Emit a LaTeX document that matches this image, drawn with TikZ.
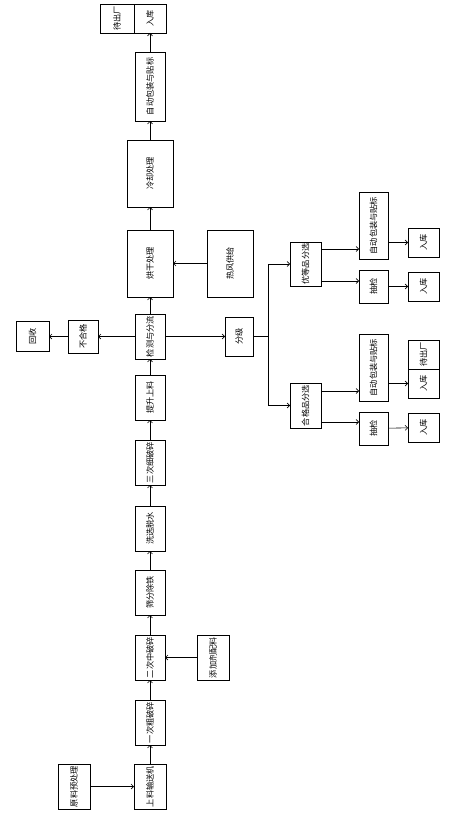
\documentclass[tikz,border=0pt]{standalone}
\usepackage{fontspec}
\usepackage{graphicx}
\usepackage{tikz}
\usetikzlibrary{arrows.meta,positioning,calc}
\newfontfamily\cjk{Noto Sans CJK SC}
\newcommand{\vtext}[1]{\rotatebox{90}{\cjk\fontsize{8.2}{9}\selectfont #1}}

\begin{document}
\begin{tikzpicture}[
    x=1pt, y=1pt,
    node distance=19pt,
    box/.style={draw, line width=0.7pt, inner sep=0pt, outer sep=0pt, minimum width=30pt, minimum height=45pt},
    bigbox/.style={box, minimum width=46pt, minimum height=67pt},
    longbox/.style={box, minimum width=29pt, minimum height=67pt},
    smallbox/.style={box, minimum width=31pt, minimum height=29pt},
    arrow/.style={-{Straight Barb[length=2.5pt,width=5pt]}, line width=0.6pt}
]
\useasboundingbox (0,0) rectangle (467,-818);
% main line
\node[box, minimum width=32pt] (feed) at (150,-786.5) {\vtext{上料输送机}};
\node[box, above=of feed] (s1) {\vtext{一次粗破碎}};
\node[box, above=20pt of s1] (s2) {\vtext{二次中破碎}};
\node[box, above=20pt of s2] (s3) {\vtext{筛分除铁}};
\node[box, above=of s3] (s4) {\vtext{洗选脱水}};
\node[box, above=21pt of s4] (s5) {\vtext{三次细破碎}};
\node[box, above=20pt of s5] (s6) {\vtext{提升上料}};
\node[box, above=16pt of s6] (judge) {\vtext{检测与分流}};
\node[bigbox, above=17pt of judge] (dry) {\vtext{烘干处理}};
\node[bigbox, above=23pt of dry] (cool) {\vtext{冷却处理}};
\node[longbox, minimum width=30pt, minimum height=69pt, above=of cool] (pack) {\vtext{自动包装与贴标}};
\node[smallbox, minimum width=32pt, above=of pack] (outB) {\vtext{入库}};
\node[smallbox, minimum width=34pt, left=0pt of outB] (outA) {\vtext{待出厂}};
% side inputs
\node[box, minimum width=32pt, left=44pt of feed] (raw) {\vtext{原料预处理}};
\node[box, minimum width=32pt, right=32pt of s2] (add) {\vtext{添加剂配料}};
\node[bigbox, right=34pt of dry] (heat) {\vtext{热风供给}};
\node[box, minimum height=33pt, left=37pt of judge] (reject) {\vtext{不合格}};
\node[box, minimum width=33pt, minimum height=30pt, left=19pt of reject] (recycle) {\vtext{回收}};
\node[box, minimum width=28pt, minimum height=39pt, right=60pt of judge] (grade) {\vtext{分级}};
% branches
\node[box, minimum width=31pt, minimum height=44pt] (brA) at (305.5,-264) {\vtext{优等品分选}};
\node[box, minimum width=31pt] (brB) at (305.5,-405.5) {\vtext{合格品分选}};
\node[longbox] (packA) at (373.5,-225.5) {\vtext{自动包装与贴标}};
\node[box, minimum width=29pt, minimum height=33pt] (checkA) at (373.5,-286.5) {\vtext{抽检}};
\node[smallbox] (inA) at (423.5,-242.5) {\vtext{入库}};
\node[smallbox] (inA2) at (423.5,-286.5) {\vtext{入库}};
\node[longbox] (packB) at (373.5,-367.5) {\vtext{自动包装与贴标}};
\node[box, minimum width=29pt, minimum height=33pt] (checkB) at (373.5,-428.5) {\vtext{抽检}};
\node[smallbox] (outC) at (423.5,-383.5) {\vtext{入库}};
\node[smallbox, above=0pt of outC] (outD) {\vtext{待出厂}};
\node[smallbox] (inB2) at (423.5,-427.5) {\vtext{入库}};

\draw[arrow] (raw) -- (feed);
\draw[arrow] (feed) -- (s1);
\draw[arrow] (s1) -- (s2);
\draw[arrow] (add) -- (s2);
\draw[arrow] (s2) -- (s3);
\draw[arrow] (s3) -- (s4);
\draw[arrow] (s4) -- (s5);
\draw[arrow] (s5) -- (s6);
\draw[arrow] (s6) -- (judge);
\draw[arrow] (judge) -- (dry);
\draw[arrow] (heat) -- (dry);
\draw[arrow] (dry) -- (cool);
\draw[arrow] (cool) -- (pack);
\draw[arrow] (pack) -- (outB);
\draw[arrow] (judge) -- (reject);
\draw[arrow] (reject) -- (recycle);
\draw[arrow] (judge) -- (grade);
\draw[arrow] (grade.east) -- ++(15,0) |- (brA.west);
\draw[arrow] (grade.east) -- ++(15,0) |- (brB.west);
\draw[arrow] ($(brA.north east)+(0,-7)$) coordinate (a1) -- (a1 -| packA.west);
\draw[arrow] ($(brA.south east)+(0,5)$) coordinate (a2) -- (a2 -| checkA.west);
\draw[arrow] (packA.east |- inA) -- (inA);
\draw[arrow] (checkA) -- (inA2);
\draw[arrow] ($(brB.north east)+(0,-8)$) coordinate (b1) -- (b1 -| packB.west);
\draw[arrow] ($(brB.south east)+(0,6)$) coordinate (b2) -- (b2 -| checkB.west);
\draw[arrow] (packB.east |- outC) -- (outC);
\draw[arrow] (checkB) -- (inB2);
\end{tikzpicture}
\end{document}
